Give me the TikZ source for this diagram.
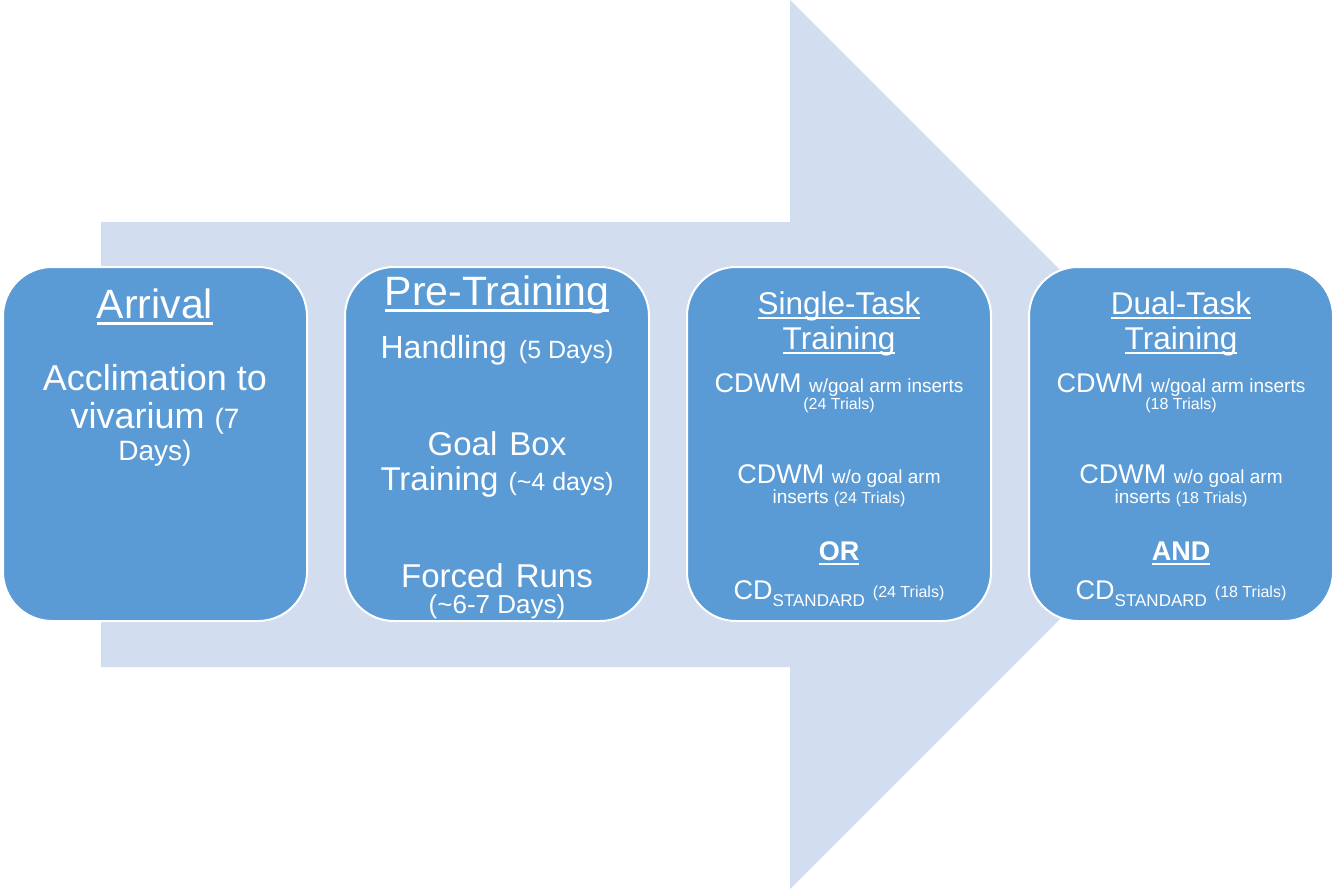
\documentclass[tikz,border=0pt]{standalone}
\usepackage{fontspec}
\setmainfont{Liberation Sans}
\definecolor{boxblue}{HTML}{5B9BD5}
\definecolor{arrowblue}{HTML}{D2DEEF}
\newcommand\fz[1]{\fontsize{#1}{#1}\selectfont}
\newcommand\myul[3]{\leavevmode\setbox0\hbox{#3}\rlap{\rule[\dimexpr-#2-#1\relax]{\wd0}{#1}}\box0}
\begin{document}
\begin{tikzpicture}[x=1pt,y=-1pt,
  box/.style={draw=white, line width=2pt, fill=boxblue, rounded corners=49pt,
    minimum width=304pt, minimum height=354pt, inner sep=0pt},
  txt/.style={text=white, anchor=base, inner sep=0pt}]
\useasboundingbox (0,0) rectangle (1336,889);
% big background arrow
\fill[arrowblue] (101,222) -- (790,222) -- (790,0) -- (1234.5,444.5) -- (790,889) -- (790,667) -- (101,667) -- cycle;
% boxes
\node[box] (b1) at (155,444) {};
\node[box] (b2) at (497,444) {};
\node[box] (b3) at (839,444) {};
\node[box] (b4) at (1181,444) {};
% box 1
\node[txt] (a1) at (155,318) {\fz{41}\myul{2.5pt}{4pt}{Arrival}};
\node[txt] (a2) at (155,390) {\fz{36}Acclimation to};
\node[txt] (a3) at (155,428) {\fz{36}vivarium {\fz{28}(7}};
\node[txt] (a4) at (155,460) {\fz{28}Days)};
% box 2
\node[txt] (p1) at (497,305) {\fz{41}\myul{2.5pt}{4pt}{Pre-Training}};
\node[txt] (p2) at (497,358) {\fz{32}Handling\hspace{12pt}{\fz{25}(5 Days)}};
\node[txt] (p3) at (497,455) {\fz{33}Goal\hspace{12pt}Box};
\node[txt] (p4) at (497,490) {\fz{33}Training\hspace{10pt}{\fz{25}(\textasciitilde4 days)}};
\node[txt] (p5) at (497,587) {\fz{33}Forced\hspace{12pt}Runs};
\node[txt] (p6) at (497,613) {\fz{26}(\textasciitilde6-7 Days)};
% box 3
\node[txt] (s1) at (839,314) {\fz{31.5}\myul{2pt}{3pt}{Single-Task}};
\node[txt] (s2) at (839,349) {\fz{31.5}\myul{2pt}{3pt}{Training}};
\node[txt] (s3) at (839,392) {\fz{27}CDWM {\fz{19}w/goal arm inserts}};
\node[txt] (s4) at (839,409) {\fz{16}(24 Trials)};
\node[txt] (s5) at (839,483) {\fz{27}CDWM {\fz{19}w/o goal arm}};
\node[txt] (s6) at (839,503) {\fz{19}inserts {\fz{16}(24 Trials)}};
\node[txt] (s7) at (839,560) {\fz{27}\bfseries\myul{2pt}{3pt}{OR}};
\node[txt] (s8) at (839,599) {\fz{27}CD\raisebox{-7pt}{\fz{17}STANDARD}\hspace{8pt}\raisebox{2pt}{\fz{16}(24 Trials)}};
% box 4
\node[txt] (d1) at (1181,314) {\fz{31.5}\myul{2pt}{3pt}{Dual-Task}};
\node[txt] (d2) at (1181,349) {\fz{31.5}\myul{2pt}{3pt}{Training}};
\node[txt] (d3) at (1181,392) {\fz{27}CDWM {\fz{19}w/goal arm inserts}};
\node[txt] (d4) at (1181,409) {\fz{16}(18 Trials)};
\node[txt] (d5) at (1181,483) {\fz{27}CDWM {\fz{19}w/o goal arm}};
\node[txt] (d6) at (1181,503) {\fz{19}inserts {\fz{16}(18 Trials)}};
\node[txt] (d7) at (1181,560) {\fz{27}\bfseries\myul{2pt}{3pt}{AND}};
\node[txt] (d8) at (1181,599) {\fz{27}CD\raisebox{-7pt}{\fz{17}STANDARD}\hspace{8pt}\raisebox{2pt}{\fz{16}(18 Trials)}};
\end{tikzpicture}
\end{document}
